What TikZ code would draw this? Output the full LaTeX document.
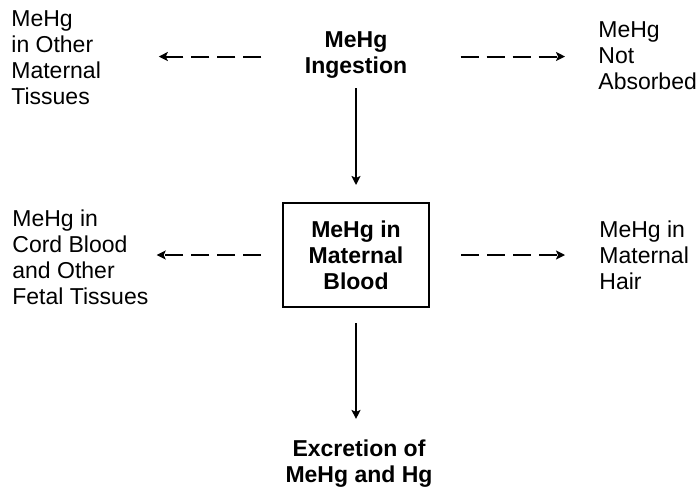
\documentclass[tikz,border=0pt]{standalone}
\usepackage{fontspec}
\setmainfont{Liberation Sans}
\usetikzlibrary{arrows.meta}
\tikzset{
  pool/.style={inner sep=0, align=left, font=\fontsize{11.5}{13}\selectfont},
  poolbold/.style={pool, align=center, font=\fontsize{11.5}{13}\selectfont\bfseries},
  bloodbox/.style={poolbold, draw, line width=1pt, minimum width=73pt, minimum height=52pt},
  flow/.style={line width=1pt, -{Stealth[length=4.5pt,width=4.5pt,inset=1pt]}},
  leak/.style={flow, dash pattern=on 9pt off 4pt}
}

\begin{document}
\begin{tikzpicture}[x=0.5pt,y=-0.5pt] % pixel grid of the figure

\useasboundingbox (0,0) rectangle (699,487);

% middle column (base = last line)
\node[poolbold, anchor=base] (ingest) at (356,73) {MeHg\\Ingestion};
\node[bloodbox] (blood) at (356,255) {MeHg in\\Maternal\\Blood};
\node[poolbold, anchor=base] (excr) at (359,482) {Excretion of\\MeHg and Hg};

% side pools
\node[pool, anchor=base west] (other) at (11,104) {MeHg\\in Other\\Maternal\\Tissues};
\node[pool, anchor=base west] (notabs) at (598,89) {MeHg\\Not\\Absorbed};
\node[pool, anchor=base west] (cord) at (12,304) {MeHg in\\Cord Blood\\and Other\\Fetal Tissues};
\node[pool, anchor=base west] (hair) at (599,289) {MeHg in\\Maternal\\Hair};

% main pathway
\draw[flow, shorten <=5pt, shorten >=8.5pt] (ingest.south) -- (ingest.south |- blood.north);
\draw[flow, shorten <=7.5pt, shorten >=10pt] (blood.south) -- (blood.south |- excr.north);

% side transfers
\draw[leak, shorten <=21.5pt, shorten >=28.75pt] ([yshift=-1pt]ingest.west) -- ([yshift=-1pt]ingest.west -| other.east);
\draw[leak, shorten <=26.5pt, shorten >=16.5pt] ([yshift=-1pt]ingest.east) -- ([yshift=-1pt]ingest.east -| notabs.west);
\draw[leak, shorten <=10.5pt, shorten >=4pt] (blood.west) -- (blood.west -| cord.east);
\draw[leak, shorten <=15.5pt, shorten >=17pt] (blood.east) -- (blood.east -| hair.west);
\end{tikzpicture}
\end{document}
